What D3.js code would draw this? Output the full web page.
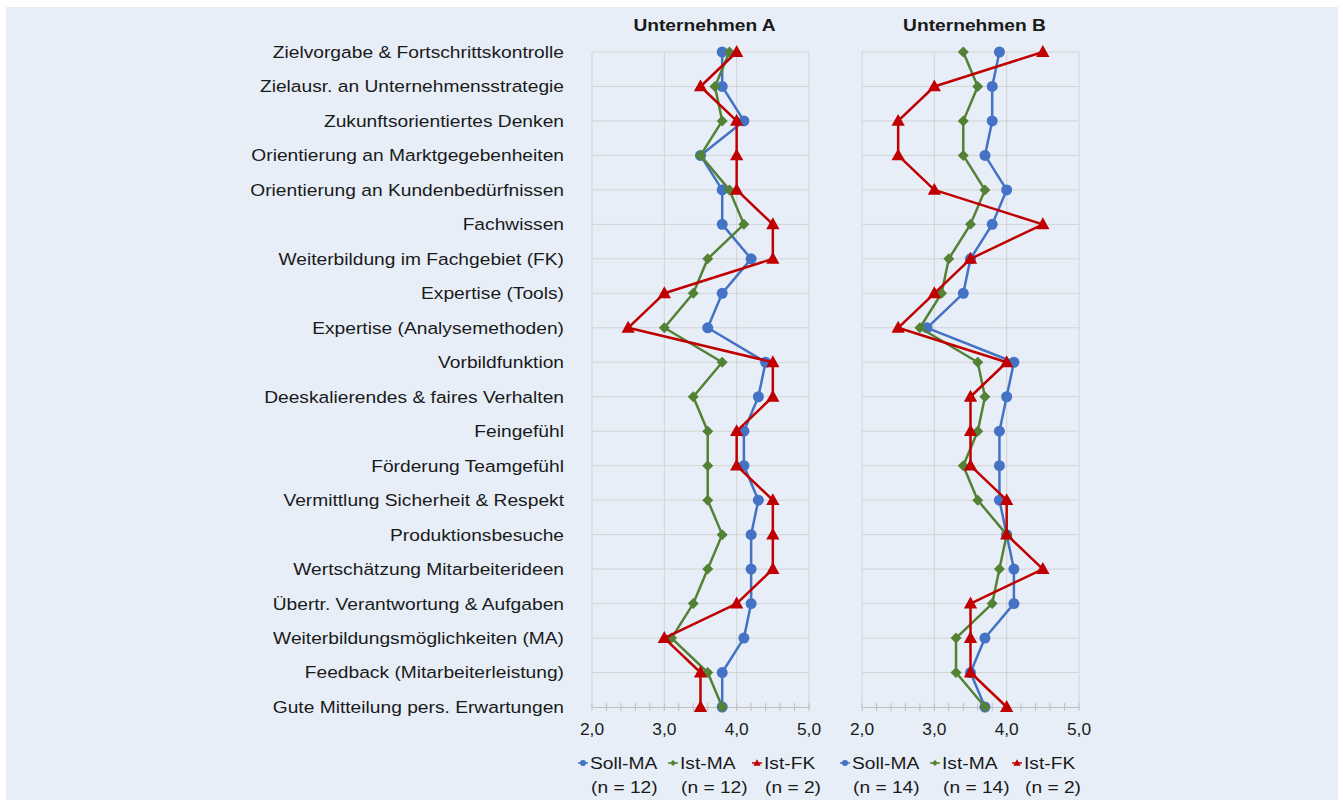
<!DOCTYPE html>
<html><head><meta charset="utf-8">
<script src="https://cdn.jsdelivr.net/npm/d3@7/dist/d3.min.js"></script>
<style>body{margin:0;background:#fff;}svg{display:block;font-family:"Liberation Sans",Arial,sans-serif;}</style>
</head><body><svg id="c" width="1343" height="802"></svg>
<script>
const categories = ["Zielvorgabe & Fortschrittskontrolle","Zielausr. an Unternehmensstrategie","Zukunftsorientiertes Denken","Orientierung an Marktgegebenheiten","Orientierung an Kundenbedürfnissen","Fachwissen","Weiterbildung im Fachgebiet (FK)","Expertise (Tools)","Expertise (Analysemethoden)","Vorbildfunktion","Deeskalierendes & faires Verhalten","Feingefühl","Förderung Teamgefühl","Vermittlung Sicherheit & Respekt","Produktionsbesuche","Wertschätzung Mitarbeiterideen","Übertr. Verantwortung & Aufgaben","Weiterbildungsmöglichkeiten (MA)","Feedback (Mitarbeiterleistung)","Gute Mitteilung pers. Erwartungen"];
const sollA = [3.8,3.8,4.1,3.5,3.8,3.8,4.2,3.8,3.6,4.4,4.3,4.1,4.1,4.3,4.2,4.2,4.2,4.1,3.8,3.8];
const istMaA = [3.9,3.7,3.8,3.5,3.9,4.1,3.6,3.4,3.0,3.8,3.4,3.6,3.6,3.6,3.8,3.6,3.4,3.1,3.6,3.8];
const istFkA = [4.0,3.5,4.0,4.0,4.0,4.5,4.5,3.0,2.5,4.5,4.5,4.0,4.0,4.5,4.5,4.5,4.0,3.0,3.5,3.5];
const sollB = [3.9,3.8,3.8,3.7,4.0,3.8,3.5,3.4,2.9,4.1,4.0,3.9,3.9,3.9,4.0,4.1,4.1,3.7,3.5,3.7];
const istMaB = [3.4,3.6,3.4,3.4,3.7,3.5,3.2,3.1,2.8,3.6,3.7,3.6,3.4,3.6,4.0,3.9,3.8,3.3,3.3,3.7];
const istFkB = [4.5,3.0,2.5,2.5,3.0,4.5,3.5,3.0,2.5,4.0,3.5,3.5,3.5,4.0,4.0,4.5,3.5,3.5,3.5,4.0];
const titles = ["Unternehmen A","Unternehmen B"];
const seriesNames = ["Soll-MA","Ist-MA","Ist-FK"];
const nLabelsA = ["(n = 12)","(n = 12)","(n = 2)"];
const nLabelsB = ["(n = 14)","(n = 14)","(n = 2)"];
const xTicks = [2,3,4,5];

const colors = ["#4472C4","#548235","#C00000"];
const SX = 1.13, FS = 17;
const svg = d3.select("#c");
svg.append("rect").attr("x",6).attr("y",7).attr("width",1332).attr("height",793).attr("fill","#E7EEF8");

const y = d3.scalePoint().domain(categories).range([52,707]);
const fmt = d => d.toFixed(1).replace(".",",");

function txt(parent, x, yy, s, anchor, opts={}){
  return parent.append("text")
    .attr("transform",`translate(${x},${yy}) scale(${opts.sx||SX},1)`)
    .attr("dy","0.35em").attr("text-anchor",anchor||"start")
    .attr("font-size",opts.fs||FS).attr("font-weight",opts.fw||"normal")
    .attr("fill","#1a1a1a").text(s);
}

// category labels
const lg0 = svg.append("g");
categories.forEach(c=>txt(lg0,564,y(c),c,"end"));

const panels = [
  {x0:592,x1:809,title:titles[0],data:[sollA,istMaA,istFkA],n:nLabelsA,leg:[583,673,757]},
  {x0:862,x1:1079,title:titles[1],data:[sollB,istMaB,istFkB],n:nLabelsB,leg:[845,935,1017]}
];

function marker(g,i,cx,cy,s){
  if(i===0) g.append("circle").attr("cx",cx).attr("cy",cy).attr("r",5.5*s).attr("fill",colors[0]);
  else if(i===1){const r=5.5*s; g.append("path").attr("d",`M${cx},${cy-r}L${cx+r},${cy}L${cx},${cy+r}L${cx-r},${cy}Z`).attr("fill",colors[1]);}
  else {const r=7*s; g.append("path").attr("d",`M${cx},${cy-r}L${cx+r*0.95},${cy+r*0.7}L${cx-r*0.95},${cy+r*0.7}Z`).attr("fill",colors[2]);}
}

panels.forEach(p=>{
  const x = d3.scaleLinear().domain([2,5]).range([p.x0,p.x1]);
  const g = svg.append("g");
  g.selectAll("line.h").data(categories.slice(0,-1)).join("line")
    .attr("x1",p.x0).attr("x2",p.x1).attr("y1",d=>y(d)).attr("y2",d=>y(d))
    .attr("stroke","#d3d3d3").attr("stroke-width",1);
  g.selectAll("line.v").data(xTicks).join("line")
    .attr("x1",d=>x(d)).attr("x2",d=>x(d)).attr("y1",52).attr("y2",707)
    .attr("stroke","#d3d3d3").attr("stroke-width",1);
  const ax = d3.axisBottom(x).tickValues(d3.range(2,5.001,0.2)).tickSize(0).tickFormat("");
  const axg = g.append("g").attr("transform","translate(0,707)").call(ax);
  axg.select(".domain").attr("stroke","#bfbfbf");
  g.selectAll("line.mt").data(d3.range(2,5.001,0.2)).join("line")
    .attr("x1",d=>x(d)).attr("x2",d=>x(d)).attr("y1",703).attr("y2",711)
    .attr("stroke","#bfbfbf");
  xTicks.forEach(t=>txt(g,x(t),729,fmt(t),"middle",{sx:1.02}));
  txt(g,(p.x0+p.x1)/2+4,25,p.title,"middle",{fw:"bold"});
  p.data.forEach((vals,i)=>{
    const line = d3.line().x(d=>x(d)).y((d,j)=>y(categories[j]));
    g.append("path").attr("d",line(vals)).attr("fill","none").attr("stroke",colors[i]).attr("stroke-width",2.5).attr("stroke-linejoin","round");
    const mg = g.append("g");
    vals.forEach((v,j)=>marker(mg,i,x(v),y(categories[j]),1));
  });
  p.leg.forEach((lx,i)=>{
    const lg = svg.append("g");
    lg.append("line").attr("x1",lx-5).attr("x2",lx+5).attr("y1",763).attr("y2",763).attr("stroke",colors[i]).attr("stroke-width",1.5);
    marker(lg,i,lx,763,0.55);
    txt(lg,lx+7,763,seriesNames[i],"start");
    txt(lg,lx+8,787,p.n[i],"start");
  });
});
</script></body></html>
